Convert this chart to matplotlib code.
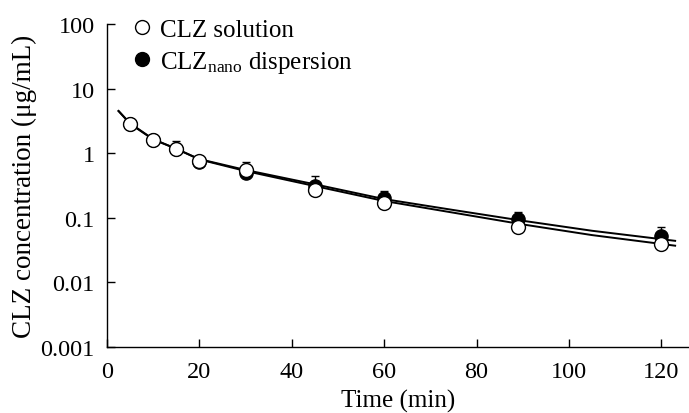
import matplotlib
matplotlib.use('Agg')
import matplotlib.pyplot as plt
from matplotlib.lines import Line2D

plt.rcParams['font.family'] = ['Liberation Serif', 'DejaVu Serif']
plt.rcParams['mathtext.fontset'] = 'custom'
plt.rcParams['mathtext.rm'] = 'Liberation Serif'
plt.rcParams['mathtext.it'] = 'Liberation Serif:italic'

# sampling times (min)
time = [5, 10, 15, 20, 30, 45, 60, 89, 120]

# measured concentrations (ug/mL)
sol_conc = [2.85, 1.61, 1.17, 0.76, 0.55, 0.27, 0.17, 0.073, 0.039]
nano_conc = [2.8, 1.6, 1.15, 0.72, 0.49, 0.31, 0.20, 0.095, 0.053]
nano_err = [0.2, 0.1, 0.4, 0.05, 0.25, 0.14, 0.06, 0.026, 0.02]

# fitted curves
fit_t = [2.5, 5, 10, 15, 20, 30, 45, 60, 75, 90, 105, 123]
fit_sol = [4.5, 2.9, 1.65, 1.17, 0.8, 0.53, 0.31, 0.182, 0.12, 0.079, 0.054, 0.037]
fit_nano = [4.5, 2.85, 1.63, 1.17, 0.81, 0.55, 0.33, 0.195, 0.132, 0.09, 0.063, 0.044]

yticks = [0.001, 0.01, 0.1, 1, 10, 100]
ytick_labels = ['0.001', '0.01', '0.1', '1', '10', '100']
xticks = [0, 20, 40, 60, 80, 100, 120]

fig = plt.figure(figsize=(6.89, 4.14), dpi=100)
ax = fig.add_axes([107 / 689, 1 - 348 / 414, 582 / 689, 323 / 414])

ax.plot(fit_t, fit_sol, color='black', lw=1.4, zorder=2)
ax.plot(fit_t, fit_nano, color='black', lw=1.4, zorder=2)

zeros = [0] * len(time)
ax.errorbar(time, nano_conc, yerr=[zeros, nano_err], fmt='o', color='black',
            mfc='black', mec='black', ms=9.5, elinewidth=1, capsize=3,
            capthick=1, zorder=3)
ax.plot(time, sol_conc, 'o', mfc='white', mec='black', mew=1, ms=10, zorder=4)

ax.set_yscale('log')
ax.set_ylim(0.001, 100)
ax.set_xlim(0, 126)
ax.set_yticks(yticks)
ax.set_yticklabels(ytick_labels)
ax.minorticks_off()
ax.set_xticks(xticks)

for s in ['top', 'right']:
    ax.spines[s].set_visible(False)
for s in ['left', 'bottom']:
    ax.spines[s].set_linewidth(1.0)

ax.tick_params(direction='in', length=6, width=1, labelsize=17.5)
ax.tick_params(axis='x', pad=10)
ax.tick_params(axis='y', pad=9)

ax.set_xlabel('Time (min)', fontsize=18, labelpad=5)
ax.set_ylabel('CLZ concentration (μg/mL)', fontsize=19.5, labelpad=2)

handles = [
    Line2D([], [], ls='none', marker='o', mfc='white', mec='black', ms=10),
    Line2D([], [], ls='none', marker='o', mfc='black', mec='black', ms=10),
]
labels = ['CLZ solution', r'CLZ$_{\mathrm{nano}}$ dispersion']
ax.legend(handles, labels, loc='upper left', bbox_to_anchor=(0.022, 1.055),
          frameon=False, fontsize=18, handlelength=0.8, handletextpad=0.3,
          labelspacing=0.3, borderpad=0)

fig.savefig('out.png', dpi=100)
